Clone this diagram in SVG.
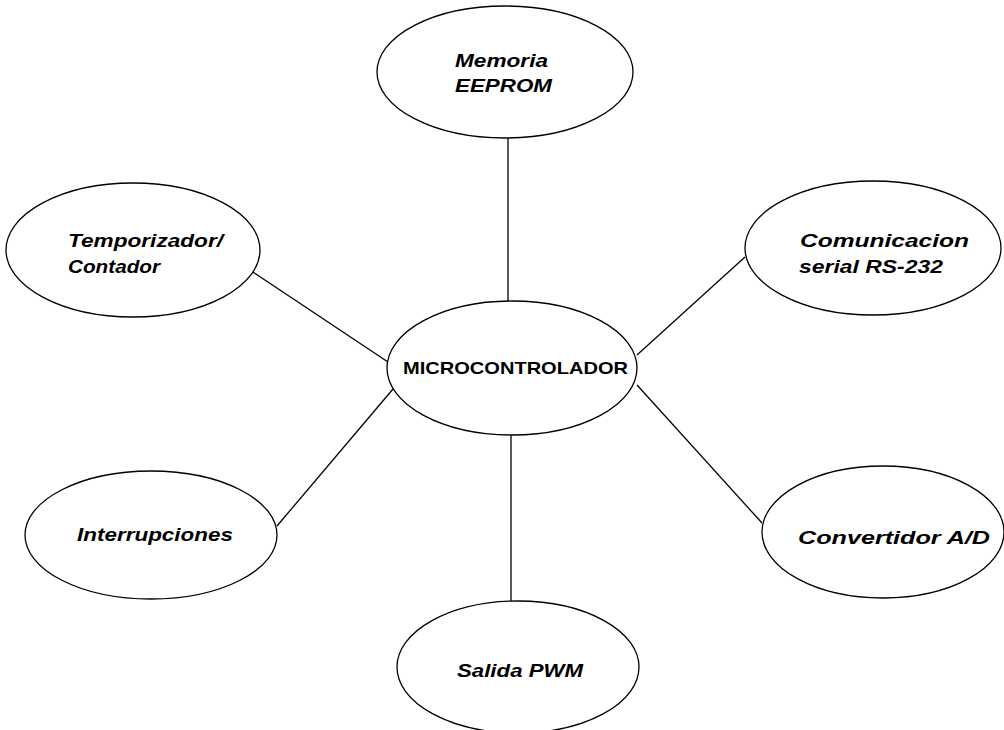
<svg xmlns="http://www.w3.org/2000/svg" width="1004" height="730" viewBox="0 0 1004 730">
<style>
.n{fill:#fff;stroke:#000;stroke-width:1.3}
.t{font-family:"Liberation Sans",Arial,sans-serif;font-size:18px;font-weight:bold;font-style:italic;fill:#000}
.m{font-family:"Liberation Sans",Arial,sans-serif;font-size:17px;font-weight:bold;fill:#000}
.c{stroke:#000;stroke-width:1.3;fill:none}
</style>
<rect width="1004" height="730" fill="#fff"/>
<g id="connectors">
<line class="c" x1="508" y1="138" x2="508" y2="301"/>
<line class="c" x1="253" y1="272" x2="388" y2="362"/>
<line class="c" x1="277" y1="526" x2="393" y2="389"/>
<line class="c" x1="637" y1="355" x2="745" y2="257"/>
<line class="c" x1="637" y1="385" x2="762" y2="523"/>
<line class="c" x1="511" y1="435" x2="511" y2="601"/>
</g>
<g id="memoria">
<ellipse class="n" cx="505" cy="72" rx="128" ry="66"/>
<text class="t" x="455" y="67" textLength="93" lengthAdjust="spacingAndGlyphs">Memoria</text>
<text class="t" x="455" y="92" textLength="97" lengthAdjust="spacingAndGlyphs">EEPROM</text>
</g>
<g id="temporizador">
<ellipse class="n" cx="133" cy="250" rx="127" ry="67"/>
<text class="t" x="68" y="247" textLength="155" lengthAdjust="spacingAndGlyphs">Temporizador/</text>
<text class="t" x="68" y="273" textLength="92" lengthAdjust="spacingAndGlyphs">Contador</text>
</g>
<g id="comunicacion">
<ellipse class="n" cx="873" cy="248" rx="128" ry="67"/>
<text class="t" x="800" y="247" textLength="169" lengthAdjust="spacingAndGlyphs">Comunicacion</text>
<text class="t" x="799" y="273" textLength="144" lengthAdjust="spacingAndGlyphs">serial RS-232</text>
</g>
<g id="microcontrolador">
<ellipse class="n" cx="512" cy="368" rx="125" ry="67"/>
<text class="m" x="403" y="374" textLength="225" lengthAdjust="spacingAndGlyphs">MICROCONTROLADOR</text>
</g>
<g id="interrupciones">
<ellipse class="n" cx="151" cy="535" rx="126" ry="64"/>
<text class="t" x="77" y="541" textLength="156" lengthAdjust="spacingAndGlyphs">Interrupciones</text>
</g>
<g id="convertidor">
<ellipse class="n" cx="883" cy="532" rx="121" ry="66"/>
<text class="t" x="798" y="544" textLength="192" lengthAdjust="spacingAndGlyphs">Convertidor A/D</text>
</g>
<g id="salida">
<ellipse class="n" cx="518" cy="667" rx="121" ry="66"/>
<text class="t" x="457" y="677" textLength="126" lengthAdjust="spacingAndGlyphs">Salida PWM</text>
</g>
</svg>
